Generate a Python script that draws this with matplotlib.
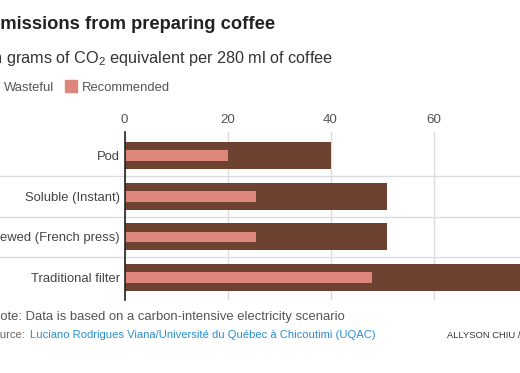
import matplotlib
matplotlib.use('Agg')
import matplotlib.pyplot as plt

categories = ["Pod", "Soluble (Instant)", "Brewed (French press)", "Traditional filter"]
wasteful = [40, 51, 51, 84]
recommended = [20, 25.5, 25.5, 48]
tick_values = [0, 20, 40, 60, 80]
tick_labels = ["0", "20", "40", "60", "80"]
series_names = ["Wasteful", "Recommended"]

BROWN = "#6e4230"
PINK = "#dd877c"
GRID = "#dddddd"

plt.rcParams['font.family'] = ['Liberation Sans', 'DejaVu Sans']
plt.rcParams['mathtext.default'] = 'regular'

W, H = 520, 373
fig = plt.figure(figsize=(W / 100, H / 100), dpi=100)
renderer = fig.canvas.get_renderer()

ax_left, ax_top, ax_bottom = 124.5, 132, 300
px_per_unit = 5.15
ax = fig.add_axes([ax_left / W, 1 - ax_bottom / H, (W - ax_left) / W, (ax_bottom - ax_top) / H])

y = list(range(len(categories)))
ax.barh(y, wasteful, height=0.667, color=BROWN, zorder=2)
ax.barh(y, recommended, height=0.26, color=PINK, zorder=3)

ax.set_xticks(tick_values)
ax.set_xticklabels(tick_labels)
ax.set_yticks(y)
ax.set_yticklabels(categories)
ax.set_xlim(0, (W - ax_left) / px_per_unit)
ax.set_ylim(3.556, -0.585)
ax.xaxis.tick_top()
ax.tick_params(axis='x', length=0, pad=4.2, labelsize=9.6, labelcolor='#555555')
ax.tick_params(axis='y', length=0, pad=3.2, labelsize=9.4, labelcolor='#444444')
ax.xaxis.grid(True, color=GRID, lw=1.0, zorder=0)
ax.set_axisbelow(True)
for s in ['top', 'right', 'bottom']:
    ax.spines[s].set_visible(False)
ax.spines['left'].set_color('#222222')
ax.spines['left'].set_linewidth(1.2)
ax.spines['left'].set_zorder(4)

ext = -ax_left / (W - ax_left)
for yb in [0.5, 1.5, 2.5]:
    ax.axhline(yb, xmin=ext, xmax=1, color=GRID, lw=1.0, clip_on=False, zorder=1)


def fx(px):
    return px / W


def fy(py):
    return 1 - py / H


def place_cut(prefix, rest, x_vis, y_base, **kw):
    t = fig.text(0, 0, prefix, **kw)
    w = t.get_window_extent(renderer).width
    t.remove()
    return fig.text(fx(x_vis - w), fy(y_base), prefix + rest, va='baseline', **kw)


place_cut("E", "missions from preparing coffee", 0, 29.3,
          fontsize=13.2, fontweight='bold', color='#222222')
place_cut("In", " grams of CO$_2$ equivalent per 280 ml of coffee", 2, 62.5,
          fontsize=11.7, color='#333333')

# legend
fig.patches.append(plt.Rectangle((fx(-30), fy(92)), 12 / W, 12 / H,
                                 transform=fig.transFigure, color=BROWN))
fig.text(fx(4), fy(90.7), series_names[0], va='baseline', fontsize=9.4, color='#555555')
fig.patches.append(plt.Rectangle((fx(65), fy(92)), 12 / W, 12 / H,
                                 transform=fig.transFigure, color=PINK))
fig.text(fx(82), fy(90.7), series_names[1], va='baseline', fontsize=9.4, color='#555555')

place_cut("N", "ote: Data is based on a carbon-intensive electricity scenario", 0, 320,
          fontsize=9.35, color='#555555')
place_cut("So", "urce: ", 0, 338.5, fontsize=8.1, color='#666666')
fig.text(fx(30), fy(338.5), "Luciano Rodrigues Viana/Université du Québec à Chicoutimi (UQAC)",
         va='baseline', fontsize=8.1, color='#2a8fd0')
fig.text(fx(447), fy(338), "ALLYSON CHIU / THE WASHINGTON POST", va='baseline',
         fontsize=6.75, color='#333333')

fig.savefig("out.png", dpi=100)
